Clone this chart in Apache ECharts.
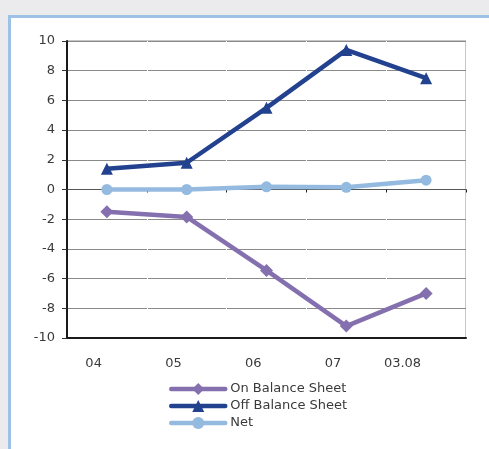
<!DOCTYPE html>
<html>
<head>
<meta charset="utf-8">
<script src="https://cdn.jsdelivr.net/npm/echarts@6/dist/echarts.min.js"></script>
<style>
  html, body { margin: 0; padding: 0; width: 489px; height: 449px; overflow: hidden; background: #ebebed; }
  #panel { position: absolute; left: 8px; top: 15px; width: 520px; height: 480px;
           background: #ffffff; border: 3px solid #9dc2e6; box-sizing: border-box; }
  #chart { position: absolute; left: 0; top: 0; width: 489px; height: 449px; }
</style>
</head>
<body>
<div id="panel"></div>
<div id="chart"></div>
<script>
// Periods on the category axis
const categories = ['04', '05', '06', '07', '03.08'];
// Series values
const onBalanceSheet = [-1.5, -1.85, -5.45, -9.2, -7.0];
const offBalanceSheet = [1.4, 1.8, 5.5, 9.4, 7.5];
const netPosition = [0.0, 0.0, 0.18, 0.15, 0.63];
// Value axis range
const yMin = -10, yMax = 10, yStep = 2;

const textColor = '#3a3a3a';
const fontFamily = 'DejaVu Sans';

const chart = echarts.init(document.getElementById('chart'), null, { renderer: 'canvas' });

chart.setOption({
  backgroundColor: 'transparent',
  animation: false,
  textStyle: { fontFamily: fontFamily },
  grid: {
    left: 67, top: 41, width: 399, height: 297,
    show: true, backgroundColor: '#ffffff', borderColor: '#8c8c8c', borderWidth: 1
  },
  legend: {
    orient: 'vertical',
    left: 169, top: 382.5,
    padding: 0,
    itemWidth: 54, itemHeight: 15, itemGap: 4,
    lineStyle: { width: 4.5, cap: 'round' },
    textStyle: { fontSize: 13, color: textColor, fontFamily: fontFamily },
    data: ['On Balance Sheet', 'Off Balance Sheet', 'Net']
  },
  xAxis: [
    {
      type: 'category',
      data: categories,
      boundaryGap: true,
      position: 'bottom',
      axisLine: { onZero: true, lineStyle: { color: '#555555', width: 1 } },
      axisTick: { show: true, inside: false, length: 3, lineStyle: { color: '#222222' } },
      axisLabel: { show: false },
      splitLine: { show: true, lineStyle: { color: '#ffffff', width: 1 } }
    },
    {
      type: 'category',
      data: categories,
      boundaryGap: true,
      position: 'bottom',
      axisLine: { onZero: false, lineStyle: { color: '#1a1a1a', width: 2 } },
      axisTick: { show: false },
      axisLabel: {
        show: true, fontSize: 13, color: textColor, fontFamily: fontFamily,
        margin: 19, align: 'right', padding: [0, 5, 0, 0]
      },
      splitLine: { show: false }
    }
  ],
  yAxis: {
    type: 'value',
    min: yMin, max: yMax, interval: yStep,
    axisLine: { show: true, lineStyle: { color: '#1a1a1a', width: 2 } },
    axisTick: { show: true, inside: false, length: 5, lineStyle: { color: '#333333' } },
    axisLabel: { fontSize: 13, color: textColor, fontFamily: fontFamily, margin: 12 },
    splitLine: { show: true, lineStyle: { color: '#8a8a8a', width: 1 } }
  },
  series: [
    {
      name: 'On Balance Sheet', type: 'line', xAxisIndex: 0,
      data: onBalanceSheet,
      symbol: 'diamond', symbolSize: 13, showAllSymbol: true,
      lineStyle: { color: '#8470ae', width: 4.5 },
      itemStyle: { color: '#8470ae' }
    },
    {
      name: 'Off Balance Sheet', type: 'line', xAxisIndex: 0,
      data: offBalanceSheet,
      symbol: 'triangle', symbolSize: 12, showAllSymbol: true,
      lineStyle: { color: '#22418e', width: 4.5 },
      itemStyle: { color: '#22418e' }
    },
    {
      name: 'Net', type: 'line', xAxisIndex: 0,
      data: netPosition,
      symbol: 'circle', symbolSize: 11, showAllSymbol: true,
      lineStyle: { color: '#95badf', width: 4.5 },
      itemStyle: { color: '#95badf' }
    }
  ]
});
</script>
</body>
</html>
